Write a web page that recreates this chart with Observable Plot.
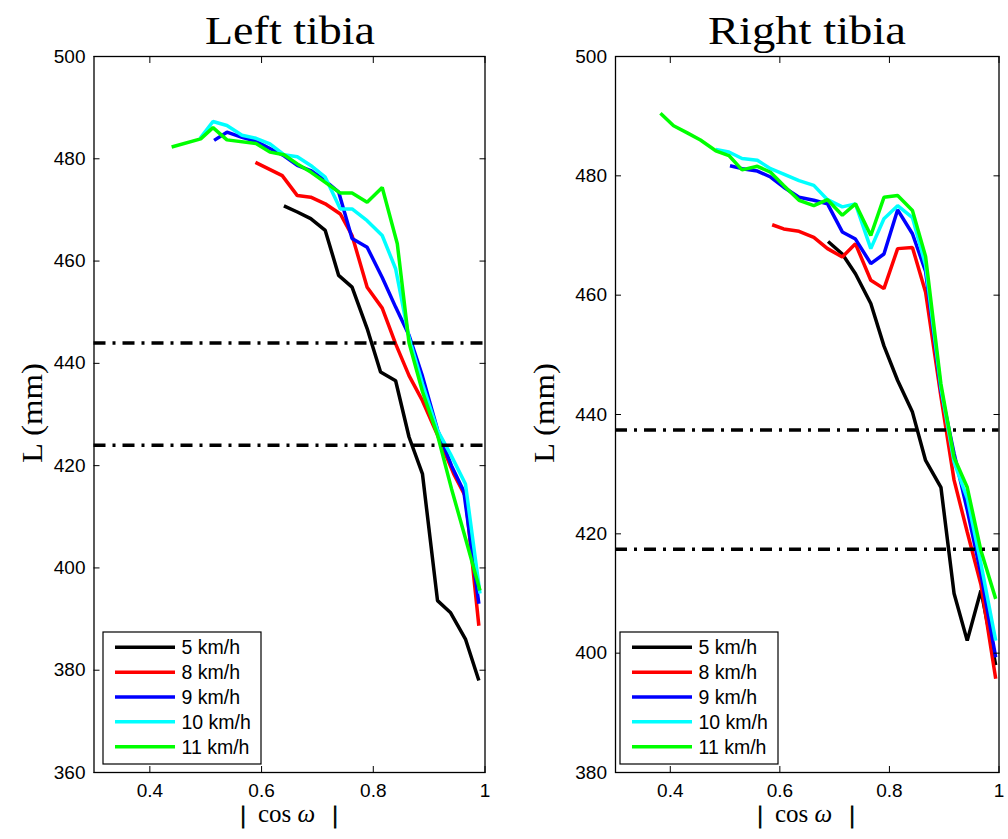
<!DOCTYPE html>
<html><head><meta charset="utf-8">
<script src="https://cdn.jsdelivr.net/npm/d3@7"></script>
<script src="https://cdn.jsdelivr.net/npm/@observablehq/plot@0.6"></script>
<style>
body{margin:0;background:#fff;}
#wrap{position:relative;width:1008px;height:839px;overflow:hidden;background:#fff;}
#wrap > svg{position:absolute;top:0;}
</style></head><body><div id="wrap"></div>
<script>
// ---- categories / ticks ----
const seriesNames = ["5 km/h", "8 km/h", "9 km/h", "10 km/h", "11 km/h"];
const seriesColors = ["#000000", "#ff0000", "#0000ff", "#00ffff", "#00ff00"];
const panelTitles = ["Left tibia", "Right tibia"];
const xTicks = [0.4, 0.6, 0.8, 1];
const leftYTicks = [360, 380, 400, 420, 440, 460, 480, 500];
const rightYTicks = [380, 400, 420, 440, 460, 480, 500];
const leftRefLines = [444, 424];
const rightRefLines = [437.4, 417.4];

// ---- Left tibia series: [|cos w|, L] ----
const left5 = [[0.640,470.8],[0.664,469.6],[0.688,468.3],[0.714,466.0],[0.738,457.2],[0.762,454.9],[0.789,446.8],[0.813,438.3],[0.840,436.6],[0.864,425.6],[0.888,418.4],[0.915,393.6],[0.938,391.3],[0.965,386.1],[0.989,378.0]];
const left8 = [[0.589,479.3],[0.637,476.7],[0.664,472.8],[0.688,472.5],[0.714,471.2],[0.741,469.2],[0.762,465.0],[0.789,454.9],[0.816,450.8],[0.840,443.8],[0.864,437.6],[0.888,432.7],[0.915,426.0],[0.944,418.4],[0.965,414.0],[0.989,388.7]];
const left9 = [[0.515,483.6],[0.538,485.2],[0.565,484.2],[0.590,483.4],[0.615,482.0],[0.640,480.6],[0.664,478.7],[0.688,477.7],[0.714,475.7],[0.738,473.5],[0.762,464.4],[0.789,462.7],[0.816,456.8],[0.840,451.0],[0.864,445.5],[0.888,437.5],[0.915,427.0],[0.940,420.0],[0.962,415.0],[0.989,393.0]];
const left10 = [[0.490,484.0],[0.513,487.3],[0.538,486.5],[0.565,484.6],[0.590,484.0],[0.615,482.9],[0.640,480.8],[0.664,480.4],[0.688,478.7],[0.714,476.4],[0.741,470.2],[0.762,470.2],[0.789,467.9],[0.816,465.0],[0.840,458.5],[0.864,445.0],[0.888,436.0],[0.915,426.9],[0.938,422.3],[0.965,416.4],[0.991,395.0]];
const left11 = [[0.439,482.3],[0.491,483.9],[0.513,486.1],[0.538,483.7],[0.590,483.0],[0.615,481.3],[0.640,480.8],[0.664,479.0],[0.688,477.4],[0.714,475.4],[0.741,473.3],[0.762,473.3],[0.789,471.5],[0.816,474.4],[0.843,463.4],[0.864,444.0],[0.888,434.5],[0.915,426.0],[0.940,415.5],[0.965,405.8],[0.991,395.6]];

// ---- Right tibia series ----
const right5 = [[0.688,469.0],[0.714,466.9],[0.738,463.6],[0.766,458.6],[0.790,451.5],[0.815,445.7],[0.842,440.4],[0.866,432.3],[0.894,427.8],[0.918,410.0],[0.942,402.1],[0.967,410.5],[0.994,398.0]];
const right8 = [[0.586,471.8],[0.607,471.1],[0.635,470.7],[0.662,469.7],[0.687,467.8],[0.714,466.4],[0.738,468.6],[0.766,462.5],[0.790,461.1],[0.815,467.8],[0.842,468.0],[0.866,460.5],[0.894,443.0],[0.918,429.0],[0.942,420.3],[0.967,411.5],[0.994,395.7]];
const right9 = [[0.509,481.7],[0.531,481.2],[0.559,480.8],[0.583,479.8],[0.607,478.1],[0.635,476.4],[0.662,475.9],[0.687,475.3],[0.714,470.6],[0.738,469.4],[0.766,465.3],[0.790,466.9],[0.815,474.3],[0.842,470.3],[0.866,464.0],[0.894,444.0],[0.918,433.5],[0.942,424.0],[0.967,413.3],[0.994,399.3]];
const right10 = [[0.483,484.4],[0.507,484.0],[0.531,482.9],[0.559,482.6],[0.583,481.2],[0.607,480.3],[0.635,479.2],[0.662,478.4],[0.687,476.0],[0.714,474.8],[0.738,475.3],[0.766,467.8],[0.790,472.8],[0.815,475.0],[0.842,473.0],[0.866,465.0],[0.894,444.5],[0.918,432.0],[0.942,426.0],[0.967,415.0],[0.994,402.1]];
const right11 = [[0.382,490.5],[0.406,488.4],[0.431,487.2],[0.455,486.0],[0.483,484.2],[0.507,483.4],[0.531,481.0],[0.559,481.6],[0.583,480.6],[0.607,478.4],[0.635,475.9],[0.662,475.0],[0.687,476.0],[0.714,473.4],[0.738,475.3],[0.766,470.0],[0.790,476.4],[0.815,476.7],[0.842,474.2],[0.866,466.5],[0.894,445.1],[0.918,432.8],[0.942,427.8],[0.967,417.2],[0.994,409.1]];

const leftSeries = [left5, left8, left9, left10, left11];
const rightSeries = [right5, right8, right9, right10, right11];

function toRows(list) {
  return list.flatMap((pts, i) => pts.map(([x, y]) => ({x, y, s: seriesNames[i]})));
}

const W = 504, H = 839, MT = 56, MB = 67;

function panel(list, yDomain, yTicks, refLines, ml, mr) {
  return Plot.plot({
    width: W, height: H,
    marginLeft: ml, marginRight: mr, marginTop: MT, marginBottom: MB,
    style: {fontFamily: "'Liberation Sans', Arial, sans-serif", fontSize: "19px", color: "#000", background: "transparent"},
    x: {domain: [0.3, 1]},
    y: {domain: yDomain},
    color: {domain: seriesNames, range: seriesColors},
    marks: [
      Plot.line(toRows(list), {x: "x", y: "y", z: "s", stroke: "s", strokeWidth: 3.5, strokeLinejoin: "miter", strokeLinecap: "butt"}),
      Plot.ruleY(refLines, {stroke: "#000", strokeWidth: 3.5, strokeDasharray: "12,7,3,7"}),
      Plot.frame({stroke: "#000", strokeWidth: 1.3}),
      Plot.axisX({anchor: "bottom", ticks: xTicks, tickSize: -6, tickPadding: 17, tickFormat: d => String(d), label: null, stroke: "#000"}),
      Plot.axisX({anchor: "top", ticks: xTicks, tickSize: -6, tickFormat: () => "", label: null}),
      Plot.axisY({anchor: "left", ticks: yTicks, tickSize: -6, tickPadding: 14.5, label: null}),
      Plot.axisY({anchor: "right", ticks: yTicks, tickSize: -6, tickFormat: () => "", label: null})
    ]
  });
}

const wrap = document.getElementById("wrap");
const leftSvg = panel(leftSeries, [360, 500], leftYTicks, leftRefLines, 93.5, W - 484.5);
leftSvg.style.left = "0px";
wrap.appendChild(leftSvg);
const rightSvg = panel(rightSeries, [380, 500], rightYTicks, rightRefLines, 615 - 504, W - (998.5 - 504));
rightSvg.style.left = "504px";
wrap.appendChild(rightSvg);

// ---- titles, axis labels, legends ----
const ov = d3.select(wrap).append("svg")
  .attr("width", 1008).attr("height", 839)
  .style("left", "0px").style("pointer-events", "none");

const serif = "'Liberation Serif', 'Times New Roman', serif";
const panelsGeo = [
  {cx: 289, title: panelTitles[0], titleW: 170, yLabX: 42, legX: 103},
  {cx: 806, title: panelTitles[1], titleW: 198, yLabX: 554, legX: 620}
];
panelsGeo.forEach(g => {
  ov.append("text").attr("x", g.cx + 1).attr("y", 44).attr("text-anchor", "middle")
    .attr("font-family", serif).attr("font-size", 40).attr("fill", "#000")
    .attr("textLength", g.titleW).attr("lengthAdjust", "spacingAndGlyphs").text(g.title);
  ov.append("text").attr("transform", `translate(${g.yLabX},413) rotate(-90)`).attr("text-anchor", "middle")
    .attr("font-family", serif).attr("font-size", 30).attr("fill", "#000")
    .attr("textLength", 100).attr("lengthAdjust", "spacingAndGlyphs").text("L (mm)");
  // x label | cos ω |
  [-46, 46].forEach(off => {
    ov.append("text").attr("x", Math.round(g.cx + off)).attr("y", 823).attr("text-anchor", "middle")
      .attr("font-family", serif).attr("font-size", 26).attr("fill", "#000")
      .attr("stroke", "#000").attr("stroke-width", 0.9).text("|");
  });
  const t = ov.append("text").attr("x", g.cx - 2.5).attr("y", 822).attr("text-anchor", "middle")
    .attr("font-family", serif).attr("font-size", 25).attr("fill", "#000");
  t.append("tspan").text("cos ");
  t.append("tspan").attr("font-style", "italic").text("ω");
  // legend
  const lg = ov.append("g");
  lg.append("rect").attr("x", g.legX).attr("y", 632).attr("width", 158).attr("height", 132)
    .attr("fill", "#fff").attr("stroke", "#000").attr("stroke-width", 1.2);
  seriesNames.forEach((n, i) => {
    const yy = 647.3 + i * 24.85;
    lg.append("line").attr("x1", g.legX + 12).attr("x2", g.legX + 72).attr("y1", yy).attr("y2", yy)
      .attr("stroke", seriesColors[i]).attr("stroke-width", 3.5);
    lg.append("text").attr("x", g.legX + 78.5).attr("y", yy).attr("dy", "0.36em").attr("fill", "#000")
      .attr("font-family", "'Liberation Sans', Arial, sans-serif").attr("font-size", 19.5).text(n);
  });
});
</script>
</body></html>
